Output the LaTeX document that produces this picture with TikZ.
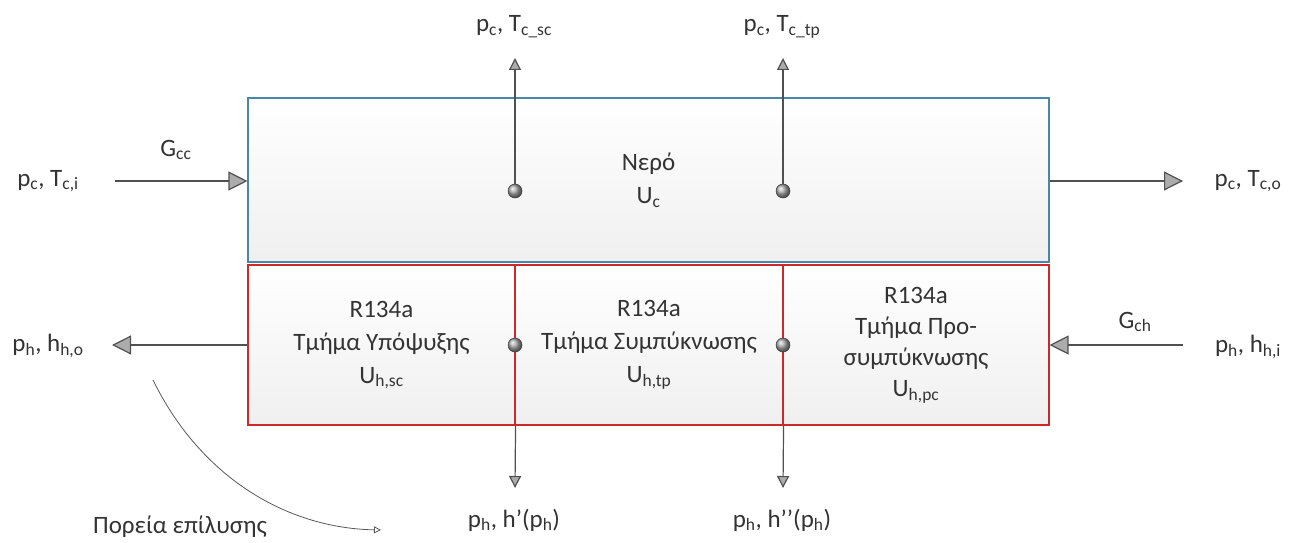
\documentclass[tikz,border=0pt]{standalone}
\usepackage{fontspec}
\setmainfont{Carlito}
\usetikzlibrary{arrows.meta, positioning, calc}
\definecolor{waterblue}{HTML}{4A86A8}
\definecolor{freonred}{HTML}{CC2A2A}
\definecolor{flowgray}{HTML}{505050}
\newcommand{\sub}[1]{\textsubscript{#1}}
\tikzset{
    x=1pt, y=-1pt,
    font=\fontsize{25}{33}\selectfont,
    hx_water/.style={
        rectangle,
        draw=waterblue,
        line width=1.1pt,
        top color=white,
        bottom color=gray!12,
        text=black!80,
        align=center,
        minimum width=801pt,
        minimum height=164pt,
        inner sep=0pt
    },
    hx_section/.style={
        rectangle,
        draw=freonred,
        line width=1.1pt,
        top color=white,
        bottom color=gray!12,
        text=black!80,
        align=center,
        minimum width=267pt,
        minimum height=160pt,
        inner sep=0pt
    },
    hx_text/.style={
        align=center,
        text=black!80,
        inner sep=1pt
    },
    hx_dot/.style={
        circle,
        minimum size=14pt,
        inner sep=0pt,
        ball color=gray!65,
        draw=gray!45!black,
        line width=0.5pt
    },
    hx_arrow/.style={
        -{Triangle[length=19pt, width=19pt, fill=gray!65]},
        draw=flowgray,
        line width=1.2pt
    },
    hx_small_arrow/.style={
        -{Triangle[length=12pt, width=12pt, fill=gray!65]},
        draw=flowgray,
        line width=1.2pt
    },
    hx_path_arrow/.style={
        -{Triangle[open, length=7pt, width=7pt]},
        draw=gray!70!black,
        line width=0.8pt
    }
}

\begin{document}
\begin{tikzpicture}
\useasboundingbox (0,0) rectangle (1293,543);

% --- Water side ---
\node[hx_water] (water) at (648.5,180) {Νερό\\U\sub{c}};
\node[hx_dot] (wdotA) at (515,191) {};
\node[hx_dot] (wdotB) at (783,191) {};

% --- R134a side ---
\node[hx_section] (sc) at (381.5,345) {R134a\\Τμήμα Υπόψυξης\\U\sub{h,sc}};
\node[hx_section, minimum width=268pt] (tp) at (649,345) {R134a\\Τμήμα Συμπύκνωσης\\U\sub{h,tp}};
\node[hx_section, minimum width=266pt, font=\fontsize{25}{31}\selectfont] (pc) at (916,345) {R134a\\Τμήμα Προ-\\συμπύκνωσης\\U\sub{h,pc}};
\node[hx_dot] (hdotA) at (515,345) {};
\node[hx_dot] (hdotB) at (783,345) {};

% --- Labels ---
\node[hx_text] (cInLbl) at (48,181) {p\sub{c}, T\sub{c,i}};
\node[hx_text] (GccLbl) at (176,150) {G\sub{cc}};
\node[hx_text] (cOutLbl) at (1248,181) {p\sub{c}, T\sub{c,o}};
\node[hx_text] (cScLbl) at (514,27) {p\sub{c}, T\sub{c\_sc}};
\node[hx_text] (cTpLbl) at (782,27) {p\sub{c}, T\sub{c\_tp}};
\node[hx_text] (hOutLbl) at (48,346) {p\sub{h}, h\sub{h,o}};
\node[hx_text] (GchLbl) at (1135,322) {G\sub{ch}};
\node[hx_text] (hInLbl) at (1248,347) {p\sub{h}, h\sub{h,i}};
\node[hx_text] (hScLbl) at (514,520) {p\sub{h}, h’(p\sub{h})};
\node[hx_text] (hTpLbl) at (782,520) {p\sub{h}, h’’(p\sub{h})};
\node[hx_text] (pathLbl) at (180,527) {Πορεία επίλυσης};

% --- Free ends ---
\coordinate (cIn) at (115,181);
\coordinate (cOut) at (1183,181);
\coordinate (cTipA) at (515,58);
\coordinate (cTipB) at (783,58);
\coordinate (hOut) at (112,345);
\coordinate (hIn) at (1183,345);
\coordinate (hTipA) at (515,488);
\coordinate (hTipB) at (783,488);
\coordinate (pathStart) at (153,380);
\coordinate (pathEnd) at (381,530);

% --- Edges ---
\draw[hx_arrow] (cIn) -- (water.west |- cIn);
\draw[hx_arrow] (water.east |- cOut) -- (cOut);
\draw[hx_small_arrow] (wdotA) -- (cTipA);
\draw[hx_small_arrow] (wdotB) -- (cTipB);
\draw[hx_arrow] (sc.west) -- (hOut);
\draw[hx_arrow] (hIn) -- (pc.east);
\draw[hx_small_arrow] (sc.south east) -- (hTipA);
\draw[hx_small_arrow] (tp.south east) -- (hTipB);
\draw[hx_path_arrow] (pathStart) .. controls (200,476) and (285,528) .. (pathEnd);

\end{tikzpicture}
\end{document}
